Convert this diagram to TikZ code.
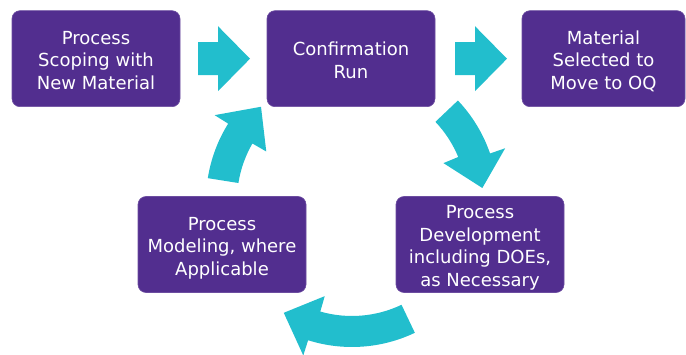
\documentclass[tikz,border=0pt]{standalone}
\usepackage{fontspec}
\setmainfont{DejaVu Sans}
\usetikzlibrary{calc}
\definecolor{boxpurple}{RGB}{82,46,143}
\definecolor{arrowcyan}{RGB}{34,190,205}
\newcommand\boxtext[1]{\raisebox{-8pt}[0pt][0pt]{\begin{tabular}{@{}c@{}}#1\end{tabular}}}
\newcommand\flatarrow[1]{%
  \fill[arrowcyan] ($(#1)+(-26pt,16.5pt)$) -- ($(#1)+(-6pt,16.5pt)$) -- ($(#1)+(-6pt,32.5pt)$)
    -- ($(#1)+(26pt,0pt)$) -- ($(#1)+(-6pt,-32.5pt)$) -- ($(#1)+(-6pt,-16.5pt)$)
    -- ($(#1)+(-26pt,-16.5pt)$) -- cycle;}
% tail angle, outer base angle, inner base angle, tip angle
\newcommand\bendarrow[4]{%
  \fill[arrowcyan] (#1:146pt) arc[start angle=#1, end angle=#2, radius=146pt]
    -- (#2:162pt) -- (#4:131pt) -- (#3:99pt) -- (#3:115pt)
    arc[start angle=#3, end angle=#1, radius=115pt] -- cycle;}
\begin{document}
\begin{tikzpicture}[x=1pt,y=1pt,
  stepbox/.style={fill=boxpurple, draw=boxpurple!85!white, line width=0.6pt,
    rounded corners=8pt, text=white,
    font=\fontsize{18}{22.5}\selectfont, inner sep=0pt,
    minimum width=168pt, minimum height=96pt}]
\useasboundingbox (0,0) rectangle (686,354);
\node[stepbox] (b1) at (96,295.3) {\boxtext{Process\\Scoping with\\New Material}};
\node[stepbox] (b2) at (351,295.3) {\boxtext{Confirmation\\Run}};
\node[stepbox, minimum width=163pt] (b3) at (603.5,295.3) {\boxtext{Material\\Selected to\\Move to OQ}};
\node[stepbox] (b4) at (222,109.5) {\boxtext{Process\\Modeling, where\\Applicable}};
\node[stepbox] (b5) at (480,109.5) {\boxtext{Process\\Development\\including DOEs,\\as Necessary}};
\coordinate (m1) at ($(b1.east)!0.5!(b2.west)+(0.5,0)$);
\coordinate (m2) at ($(b2.east)!0.5!(b3.west)+(2.5,0)$);
\flatarrow{m1}
\flatarrow{m2}
\coordinate (c) at (352,153);
\begin{scope}[shift={(c)}]
  \bendarrow{43.5}{19}{22.5}{5.7}
  \bendarrow{-64.5}{-107.5}{-106}{-121.4}
  \bendarrow{171}{148}{150}{134}
\end{scope}
\end{tikzpicture}
\end{document}
